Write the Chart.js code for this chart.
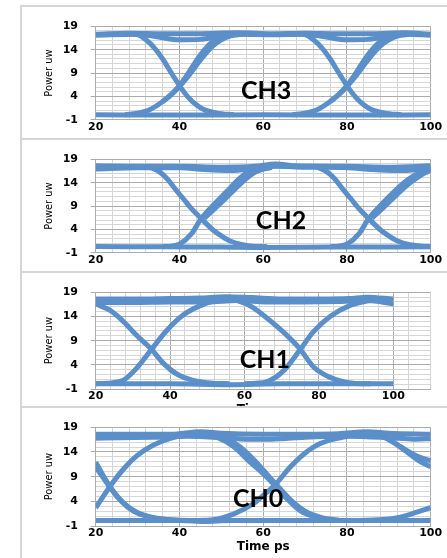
<!DOCTYPE html>
<html><head><meta charset="utf-8">
<script src="https://cdn.jsdelivr.net/npm/chart.js@4.4.1/dist/chart.umd.min.js"></script>
<style>
html,body{margin:0;padding:0;background:#fff;width:447px;height:558px;overflow:hidden;}
.panel{position:absolute;left:20px;width:440px;background:#fff;border:2px solid #d6d6d6;box-sizing:border-box;}
.panel canvas{position:absolute;left:0;top:0;}
</style></head><body>
<div class="panel" style="top:5px;height:140px"><canvas id="c1" width="425" height="132"></canvas></div>
<div class="panel" style="top:138px;height:140px"><canvas id="c2" width="425" height="132"></canvas></div>
<div class="panel" style="top:271px;height:150px"><canvas id="c3" width="425" height="144"></canvas></div>
<div class="panel" style="top:406px;height:160px"><canvas id="c4" width="425" height="150"></canvas></div>
<script>
// ---- tick labels / names ----
const xTickLabels = [20, 40, 60, 80, 100];
const yTickLabels = [-1, 4, 9, 14, 19];
const channelNames = ['CH3', 'CH2', 'CH1', 'CH0'];
const yTitle = 'Power uw';
const xTitle = 'Time ps';

// ---- CH3 traces [time ps, power uw] ----
const ch3Low   = [[20,0.05],[40,0],[60,0.05],[80,0],[100,0.05]];
const ch3TopA  = [[20,17.3],[28,17.5],[36,17.4],[44,17.4],[54,17.6],[62,17.4],[70,17.5],[78,17.4],[86,17.4],[94,17.6],[100,17.3]];
const ch3TopB  = [[20,17.1],[30,17.3],[35,16.7],[40,16.1],[45,16.2],[50,16.9],[54,17.3],[62,17.2],[70,17.3],[75,16.7],[80,16.1],[85,16.2],[90,16.9],[94,17.3],[100,17.1]];
const ch3Fall1 = [[28,17.4],[30,17.2],[32,16.1],[34,14.4],[36,12.0],[38,9.1],[40,6.3],[42,3.9],[44,2.2],[46,1.1],[49,0.4],[53,0.05]];
const ch3Rise1a= [[27,0.05],[30,0.4],[33,1.2],[36,2.9],[38,4.4],[40,6.3],[42,8.8],[44,11.6],[46,14.0],[48,15.8],[50,16.8],[53,17.3]];
const ch3Rise1b= [[36,2.9],[38,4.3],[40,6.1],[42,8.2],[44,10.6],[46,12.9],[48,14.8],[50,16.1],[52,16.9],[55,17.3]];
const ch3Fall2 = [[68,17.4],[70,17.2],[72,16.1],[74,14.4],[76,12.0],[78,9.1],[80,6.3],[82,3.9],[84,2.2],[86,1.1],[89,0.4],[93,0.05]];
const ch3Rise2a= [[67,0.05],[70,0.4],[73,1.2],[76,2.9],[78,4.4],[80,6.3],[82,8.8],[84,11.6],[86,14.0],[88,15.8],[90,16.8],[93,17.3]];
const ch3Rise2b= [[76,2.9],[78,4.3],[80,6.1],[82,8.2],[84,10.6],[86,12.9],[88,14.8],[90,16.1],[92,16.9],[95,17.3]];

// ---- CH2 traces ----
const ch2Low   = [[20,0.35],[28,0.3],[36,0.25],[50,0.2],[60,0.1],[76,0.2],[100,0.25]];
const ch2TopA  = [[20,17.6],[30,17.5],[40,17.5],[50,17.3],[58,17.5],[63,18.0],[68,17.6],[80,17.5],[90,17.3],[100,17.6]];
const ch2TopB  = [[20,16.9],[30,17.2],[40,17.2],[46,16.8],[52,16.6],[58,17.0],[63,17.5],[70,17.3],[80,17.2],[86,16.8],[92,16.6],[100,16.9]];
const ch2Fall1 = [[33,17.3],[35.4,16.2],[37,14.9],[39.3,12.3],[41,10.5],[42.5,8.8],[45.2,6.3],[48.1,3.8],[50,2.6],[52.1,1.5],[55,0.7],[58,0.35],[61,0.3]];
const ch2Rise1 = [[36,0.3],[38,0.4],[40.1,0.9],[42.9,3.1],[45.2,6.3],[48.1,9.2],[51.3,12.1],[54.5,15.0],[57.6,16.9],[61,17.4]];
const ch2Rise1b= [[46,6.4],[49,8.9],[52,11.5],[55,14.1],[58,16.2],[62,17.3]];
const ch2Fall2 = [[73,17.3],[75.4,16.2],[77,14.9],[79.3,12.3],[81,10.5],[82.5,8.8],[85.2,6.3],[88.1,3.8],[90,2.6],[92.1,1.5],[95,0.7],[98,0.4],[100,0.3]];
const ch2Rise2 = [[76,0.3],[78,0.4],[80.1,0.9],[82.9,3.1],[85.2,6.3],[88.1,9.2],[91.3,12.1],[94.5,14.6],[97.6,16.3],[100,17.2]];
const ch2Rise2b= [[86,6.4],[89,8.9],[92,11.5],[95,13.9],[98,15.8],[100,16.6]];

// ---- CH1 traces ----
const ch1Low   = [[20,0.1],[40,0.1],[56,-0.1],[70,0.1],[100,0.1]];
const ch1TopA  = [[20,17.6],[30,17.6],[40,17.7],[48,17.8],[55,18.1],[62,17.9],[70,17.6],[80,17.6],[88,17.7],[93,18.0],[100,17.6]];
const ch1TopB  = [[20,16.9],[30,16.9],[40,17.0],[50,17.0],[58,17.3],[66,17.0],[76,17.0],[86,17.1],[93,17.3],[100,16.6]];
const ch1Fall1 = [[20,16.6],[23.8,15.3],[27.4,13.0],[31,10.1],[35,7.2],[38.2,4.3],[41.8,2.1],[46.2,0.8],[51.6,0.2],[56,0.1]];
const ch1Rise1 = [[20,0.1],[23,0.2],[27.4,0.8],[31,3.3],[35,7.2],[39.1,11.1],[43.5,14.3],[48,16.2],[53.4,17.5],[58,17.8]];
const ch1Fall2 = [[55,17.6],[58,17.3],[62,16.0],[66,13.7],[70.4,10.8],[75,7.2],[78.5,3.6],[83,1.4],[89.2,0.2],[94,0.1]];
const ch1Rise2 = [[60,0.1],[63,0.2],[66,0.5],[70.4,2.7],[75,7.2],[78.5,10.8],[83,14.0],[88.4,16.3],[92.9,17.2],[97,17.6]];

// ---- CH0 traces ----
const ch0Low   = [[20,0.1],[40,0.1],[46,-0.1],[52,0.1],[100,0.1]];
const ch0TopA  = [[20,17.6],[30,17.6],[38,17.6],[45,18.1],[50,17.8],[60,17.6],[70,17.6],[78,17.7],[85,18.1],[90,17.8],[100,17.6]];
const ch0TopB  = [[20,16.8],[26,16.9],[34,17.0],[42,17.2],[50,16.9],[56,16.6],[62,16.6],[70,17.0],[80,17.2],[90,16.9],[96,16.6],[100,16.7]];
const ch0Fall1a= [[20,11.9],[23.4,7.0],[26.6,3.7],[29.8,1.8],[33.8,0.7],[39.4,0.2],[44,0.1]];
const ch0Fall1b= [[20,11.0],[23,7.3],[26,4.1],[29,2.0],[33,0.8],[38,0.2]];
const ch0Rise1 = [[20,2.7],[23.4,7.0],[26.6,10.5],[29.8,13.2],[33.8,15.4],[39.4,17.1],[45,17.8],[50,17.6]];
const ch0Fall2a= [[46,17.6],[48.9,17.0],[52.9,15.1],[56.8,12.0],[60,9.6],[62.8,7.2],[65.6,4.6],[68.8,2.1],[72.8,0.7],[76.6,0.2],[80,0.1]];
const ch0Fall2b= [[48,17.6],[51,16.9],[54.5,15.0],[58,12.2],[61,9.4],[64,6.6],[66.8,4.1],[70,2.0],[74,0.7],[78,0.2]];
const ch0Rise2 = [[44,0.1],[48.9,0.4],[52.9,1.4],[57.6,3.5],[60,5.2],[62.8,7.3],[66.4,10.9],[69.6,13.5],[73.6,15.7],[79.1,17.0],[84.7,17.8],[90,17.6]];
const ch0Fall3a= [[84,17.7],[88.7,17.0],[92.7,15.1],[96.7,13.2],[100,12.2]];
const ch0Fall3b= [[86,17.6],[90,16.6],[94,14.2],[97,12.3],[100,11.0]];
const ch0Rise3 = [[80,0.1],[88.7,0.3],[92.7,0.8],[96.7,1.8],[100,2.7]];

const BLUE = '#5b8fc9';
const MAJOR = '#ababab';
const MINOR = '#d6d6d6';

const chLabelPlugin = {
  id: 'chLabel',
  afterDatasetsDraw(chart, args, opts) {
    const {ctx, scales} = chart;
    ctx.save();
    ctx.font = 'bold 25px Lato, "Liberation Sans", sans-serif';
    ctx.fillStyle = '#000';
    ctx.textAlign = 'center';
    ctx.textBaseline = 'alphabetic';
    ctx.fillText(opts.text, scales.x.getPixelForValue(opts.x), scales.y.getPixelForValue(opts.y) + 9);
    ctx.restore();
  }
};

function makePanel(id, traces, p) {
  const datasets = traces.map(t => ({
    data: t.map(pt => ({x: pt[0], y: pt[1]})),
    borderColor: BLUE, backgroundColor: BLUE,
    borderWidth: 5, pointRadius: 0, fill: false,
    cubicInterpolationMode: 'monotone',
    borderCapStyle: 'butt', borderJoinStyle: 'round'
  }));
  new Chart(document.getElementById(id), {
    type: 'line',
    data: {datasets},
    plugins: [chLabelPlugin],
    options: {
      responsive: false, animation: false, events: [],
      layout: {padding: {left: 0, top: p.top, right: p.right, bottom: 0}},
      plugins: {
        legend: {display: false}, tooltip: {enabled: false},
        chLabel: {text: p.label, x: p.lx, y: p.ly}
      },
      scales: {
        x: {
          type: 'linear', min: 20, max: p.xMax,
          ticks: {stepSize: 4, autoSkip: false, maxRotation: 0, minRotation: 0, padding: 1,
            color: '#000', font: {family: '"DejaVu Sans", Verdana, sans-serif', weight: 'bold', size: 11},
            callback: v => xTickLabels.includes(v) ? String(v) : ''},
          grid: {drawTicks: false, color: c => (c.tick && c.tick.value % 20 === 0) ? MAJOR : MINOR, lineWidth: 1},
          border: {color: MAJOR},
          title: {display: !!p.xTitle, text: xTitle, color: '#000',
            font: {family: '"DejaVu Sans", Verdana, sans-serif', weight: 'bold', size: 12},
            padding: {top: 0, bottom: p.xTitlePad || 0}},
          afterFit: s => { s.height = p.xH; }
        },
        y: {
          type: 'linear', min: -1, max: 19,
          ticks: {stepSize: 1, autoSkip: false, padding: 12.7,
            color: '#000', font: {family: '"DejaVu Sans", Verdana, sans-serif', weight: 'bold', size: 11},
            callback: v => yTickLabels.includes(v) ? String(v) : ''},
          grid: {tickLength: 5,
            color: c => (c.tick && yTickLabels.includes(c.tick.value)) ? MAJOR : MINOR,
            tickColor: c => (c.tick && yTickLabels.includes(c.tick.value)) ? MAJOR : 'rgba(0,0,0,0)'},
          border: {color: MAJOR},
          title: {display: true, text: yTitle, color: '#000',
            font: {family: '"Liberation Sans Narrow", "DejaVu Sans Condensed", "Liberation Sans", sans-serif', size: 11},
            padding: {top: 20.4, bottom: 0}},
          afterFit: s => { s.width = 73.7; }
        }
      }
    }
  });
}

makePanel('c1', [ch3Low, ch3TopA, ch3TopB, ch3Fall1, ch3Rise1a, ch3Rise1b, ch3Fall2, ch3Rise2a, ch3Rise2b],
  {top: 8.7, right: 16.3, xH: 15, xMax: 100, label: channelNames[0], lx: 60.7, ly: 5.46});
makePanel('c2', [ch2Low, ch2TopA, ch2TopB, ch2Fall1, ch2Rise1, ch2Rise1b, ch2Fall2, ch2Rise2, ch2Rise2b],
  {top: 14, right: 16.3, xH: 14.3, xMax: 100, label: channelNames[1], lx: 64.25, ly: 5.9});
makePanel('c3', [ch1Low, ch1TopA, ch1TopB, ch1Fall1, ch1Rise1, ch1Fall2, ch1Rise2],
  {top: 12.7, right: 16.5, xH: 28, xMax: 110, xTitle: true, xTitlePad: 0, label: channelNames[2], lx: 65.5, ly: 5.2});
makePanel('c4', [ch0Low, ch0TopA, ch0TopB, ch0Fall1a, ch0Fall1b, ch0Rise1, ch0Fall2a, ch0Fall2b, ch0Rise2, ch0Fall3a, ch0Fall3b, ch0Rise3],
  {top: 15.3, right: 16.3, xH: 32, xMax: 100, xTitle: true, xTitlePad: 4.1, label: channelNames[3], lx: 58.8, ly: 4.65});
</script>
</body></html>
